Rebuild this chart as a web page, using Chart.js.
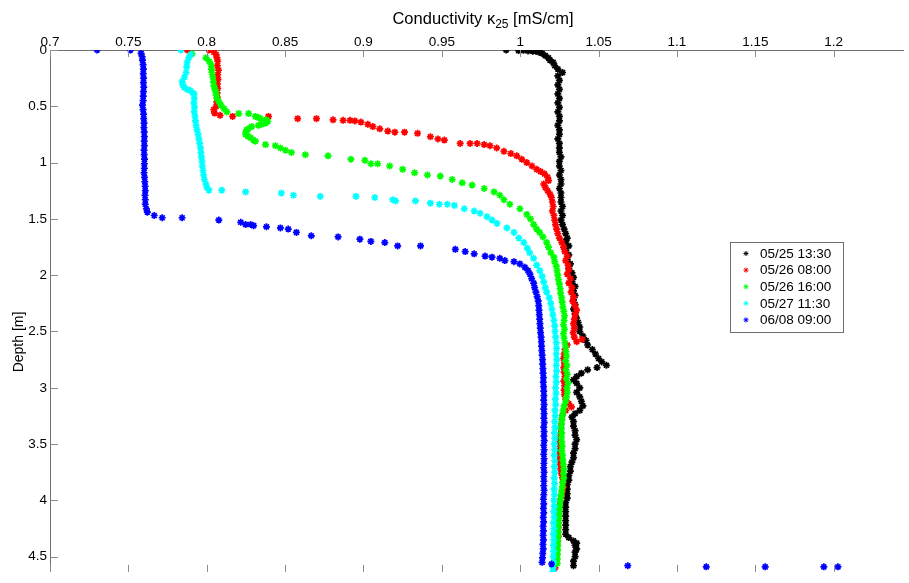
<!DOCTYPE html>
<html>
<head>
<meta charset="utf-8">
<title>Conductivity profiles</title>
<script src="https://cdn.jsdelivr.net/npm/chart.js@4.4.0/dist/chart.umd.min.js"></script>
<style>
  html, body { margin: 0; padding: 0; background: #fff; }
  #wrap { width: 909px; height: 583px; position: relative; }
</style>
</head>
<body>
<div id="wrap"><canvas id="profile-chart" width="909" height="583"></canvas></div>
<script>
// ===== Data =====
const seriesLabels = ['05/25 13:30', '05/26 08:00', '05/26 16:00', '05/27 11:30', '06/08 09:00'];
const seriesColors = ['#000000', '#ff0000', '#00ff00', '#00ffff', '#0000ff'];

const xTicks = [0.7, 0.75, 0.8, 0.85, 0.9, 0.95, 1.0, 1.05, 1.1, 1.15, 1.2];
const xTickLabels = ['0.7', '0.75', '0.8', '0.85', '0.9', '0.95', '1', '1.05', '1.1', '1.15', '1.2'];
const yTicks = [0, 0.5, 1, 1.5, 2, 2.5, 3, 3.5, 4, 4.5];
const yTickLabels = ['0', '0.5', '1', '1.5', '2', '2.5', '3', '3.5', '4', '4.5'];

// each profile: [depth m, conductivity mS/cm]
const profile0525 = [
  [0.00, 0.991], [0.005, 0.999], [0.003, 1.002], [0.008, 1.005], [0.01, 1.008], [0.012, 1.010],
  [0.02, 1.012], [0.03, 1.014], [0.05, 1.016], [0.07, 1.018], [0.09, 1.019], [0.11, 1.021],
  [0.14, 1.022], [0.17, 1.024], [0.20, 1.027], [0.23, 1.024], [0.27, 1.025], [0.31, 1.024],
  [0.35, 1.025], [0.39, 1.024], [0.43, 1.025], [0.47, 1.024], [0.51, 1.025], [0.55, 1.024],
  [0.59, 1.025], [0.63, 1.025], [0.67, 1.024], [0.71, 1.025], [0.75, 1.025], [0.79, 1.024],
  [0.83, 1.025], [0.87, 1.025], [0.91, 1.025], [0.95, 1.026], [0.99, 1.025], [1.03, 1.025],
  [1.07, 1.026], [1.11, 1.025], [1.15, 1.026], [1.19, 1.026], [1.23, 1.025], [1.27, 1.026],
  [1.31, 1.026], [1.35, 1.026], [1.39, 1.027], [1.43, 1.026], [1.47, 1.027], [1.51, 1.026],
  [1.55, 1.027], [1.59, 1.028], [1.63, 1.029], [1.67, 1.030], [1.70, 1.029], [1.74, 1.031],
  [1.78, 1.029], [1.82, 1.031], [1.86, 1.030], [1.90, 1.032], [1.94, 1.031], [1.98, 1.033],
  [2.02, 1.034], [2.06, 1.033], [2.10, 1.035], [2.14, 1.034], [2.18, 1.035], [2.22, 1.034],
  [2.26, 1.035], [2.30, 1.034], [2.34, 1.035], [2.38, 1.036], [2.42, 1.037], [2.46, 1.038],
  [2.50, 1.038], [2.54, 1.040], [2.58, 1.042], [2.62, 1.043], [2.66, 1.046], [2.70, 1.048],
  [2.74, 1.050], [2.77, 1.052], [2.80, 1.055], [2.82, 1.049], [2.84, 1.043], [2.87, 1.039],
  [2.90, 1.036], [2.93, 1.034], [2.96, 1.036], [3.00, 1.038], [3.04, 1.036], [3.08, 1.038],
  [3.12, 1.039], [3.16, 1.040], [3.20, 1.038], [3.23, 1.035], [3.26, 1.033], [3.30, 1.034],
  [3.34, 1.034], [3.38, 1.035], [3.42, 1.035], [3.46, 1.036], [3.50, 1.035], [3.54, 1.035],
  [3.58, 1.034], [3.62, 1.034], [3.66, 1.033], [3.70, 1.032], [3.74, 1.032], [3.78, 1.031],
  [3.82, 1.031], [3.86, 1.030], [3.90, 1.030], [3.94, 1.030], [3.98, 1.030], [4.02, 1.029],
  [4.06, 1.029], [4.10, 1.029], [4.14, 1.029], [4.18, 1.029], [4.22, 1.029], [4.26, 1.029],
  [4.30, 1.029], [4.33, 1.031], [4.36, 1.034], [4.38, 1.036], [4.40, 1.035], [4.43, 1.036],
  [4.46, 1.035], [4.50, 1.035], [4.54, 1.034], [4.58, 1.034]
];

const profile0526a = [
  [0.00, 0.7875], [0.00, 0.8014], [0.02, 0.8045], [0.04, 0.8060], [0.07, 0.8065], [0.10, 0.8070],
  [0.14, 0.8068], [0.18, 0.8075], [0.22, 0.8070], [0.26, 0.8072], [0.30, 0.8068], [0.34, 0.8070],
  [0.38, 0.8066], [0.42, 0.8068], [0.46, 0.8064], [0.50, 0.8060], [0.53, 0.8045], [0.56, 0.8050],
  [0.58, 0.8085], [0.59, 0.8165], [0.59, 0.8394], [0.61, 0.8580], [0.61, 0.8700], [0.62, 0.8806],
  [0.625, 0.8870], [0.625, 0.8914], [0.63, 0.8945], [0.64, 0.8984], [0.66, 0.9028], [0.68, 0.9060],
  [0.70, 0.9104], [0.72, 0.9155], [0.73, 0.9200], [0.73, 0.9262], [0.74, 0.9345], [0.77, 0.9427],
  [0.79, 0.9475], [0.80, 0.9516], [0.83, 0.9617], [0.83, 0.9680], [0.83, 0.9725], [0.84, 0.9770],
  [0.85, 0.9807], [0.87, 0.9850], [0.90, 0.9896], [0.92, 0.9940], [0.94, 0.9978], [0.97, 1.0010],
  [1.00, 1.0042], [1.03, 1.0075], [1.06, 1.0105], [1.08, 1.0130], [1.10, 1.0155], [1.13, 1.0175],
  [1.16, 1.0181], [1.19, 1.0150], [1.22, 1.0160], [1.25, 1.0175], [1.28, 1.0190], [1.31, 1.0200],
  [1.35, 1.0205], [1.39, 1.0210], [1.43, 1.0205], [1.47, 1.0215], [1.51, 1.0220], [1.55, 1.0225],
  [1.59, 1.0232], [1.63, 1.0240], [1.67, 1.0250], [1.71, 1.0265], [1.75, 1.0276], [1.79, 1.0285],
  [1.83, 1.0300], [1.87, 1.0290], [1.91, 1.0305], [1.95, 1.0310], [1.99, 1.0300], [2.03, 1.0320],
  [2.07, 1.0310], [2.11, 1.0330], [2.15, 1.0325], [2.19, 1.0340], [2.23, 1.0335], [2.27, 1.0350],
  [2.31, 1.0360], [2.35, 1.0350], [2.39, 1.0345], [2.43, 1.0340], [2.47, 1.0345], [2.51, 1.0338],
  [2.55, 1.0345], [2.57, 1.0395], [2.59, 1.0360], [2.62, 1.0300], [2.66, 1.0285], [2.70, 1.0280],
  [2.74, 1.0276], [2.78, 1.0282], [2.82, 1.0278], [2.86, 1.0280], [2.90, 1.0285], [2.94, 1.0278],
  [2.98, 1.0283], [3.02, 1.0280], [3.06, 1.0282], [3.10, 1.0290], [3.14, 1.0310], [3.17, 1.0327],
  [3.20, 1.0290], [3.24, 1.0270], [3.28, 1.0265], [3.32, 1.0262], [3.36, 1.0260], [3.40, 1.0258],
  [3.44, 1.0255], [3.48, 1.0252], [3.52, 1.0255], [3.56, 1.0250], [3.60, 1.0252], [3.64, 1.0250],
  [3.68, 1.0255], [3.72, 1.0258], [3.76, 1.0262], [3.80, 1.0270], [3.84, 1.0272], [3.88, 1.0276],
  [3.92, 1.0270], [3.96, 1.0262], [4.00, 1.0255], [4.04, 1.0250], [4.08, 1.0248], [4.12, 1.0245],
  [4.16, 1.0245], [4.20, 1.0243], [4.24, 1.0244], [4.28, 1.0240], [4.32, 1.0243], [4.36, 1.0238],
  [4.40, 1.0235], [4.44, 1.0234], [4.48, 1.0230], [4.52, 1.0228], [4.56, 1.0226], [4.60, 1.0222]
];

const profile0526b = [
  [0.035, 0.7906], [0.07, 0.7995], [0.10, 0.8015], [0.13, 0.8027], [0.17, 0.8030], [0.20, 0.8033],
  [0.24, 0.8038], [0.28, 0.8042], [0.32, 0.8046], [0.35, 0.8052], [0.37, 0.8058], [0.40, 0.8060],
  [0.43, 0.8065], [0.46, 0.8078], [0.49, 0.8090], [0.52, 0.8110], [0.55, 0.8128], [0.565, 0.8204],
  [0.565, 0.8267], [0.59, 0.8310], [0.60, 0.8330], [0.61, 0.8343], [0.62, 0.8380], [0.635, 0.8390],
  [0.65, 0.8375], [0.66, 0.8350], [0.67, 0.8330], [0.68, 0.8287], [0.70, 0.8265], [0.71, 0.8255],
  [0.73, 0.8250], [0.75, 0.8248], [0.765, 0.8262], [0.78, 0.8280], [0.80, 0.8298], [0.81, 0.8310],
  [0.84, 0.8375], [0.85, 0.8438], [0.87, 0.8470], [0.89, 0.8502], [0.91, 0.8540], [0.93, 0.8629],
  [0.94, 0.8774], [0.97, 0.8920], [0.98, 0.9009], [1.01, 0.9047], [1.01, 0.9090], [1.03, 0.9167],
  [1.06, 0.9250], [1.09, 0.9326], [1.11, 0.9408], [1.12, 0.9490], [1.15, 0.9566], [1.18, 0.9630],
  [1.20, 0.9693], [1.23, 0.9770], [1.26, 0.9833], [1.29, 0.9870], [1.33, 0.9896], [1.37, 0.9934],
  [1.41, 0.9998], [1.46, 1.0042], [1.50, 1.0065], [1.55, 1.0086], [1.59, 1.0105], [1.62, 1.0124],
  [1.66, 1.0145], [1.71, 1.0169], [1.75, 1.0180], [1.80, 1.0195], [1.84, 1.0215], [1.88, 1.0220],
  [1.92, 1.0230], [1.96, 1.0235], [2.00, 1.0240], [2.04, 1.0244], [2.08, 1.0250], [2.12, 1.0255],
  [2.16, 1.0258], [2.20, 1.0264], [2.24, 1.0268], [2.28, 1.0272], [2.32, 1.0278], [2.36, 1.0283],
  [2.40, 1.0280], [2.44, 1.0276], [2.48, 1.0282], [2.52, 1.0276], [2.56, 1.0280], [2.60, 1.0285],
  [2.64, 1.0290], [2.68, 1.0292], [2.72, 1.0295], [2.76, 1.0290], [2.80, 1.0298], [2.84, 1.0292],
  [2.88, 1.0300], [2.92, 1.0295], [2.96, 1.0305], [3.00, 1.0298], [3.04, 1.0300], [3.08, 1.0295],
  [3.12, 1.0290], [3.16, 1.0280], [3.20, 1.0275], [3.24, 1.0270], [3.28, 1.0266], [3.32, 1.0264],
  [3.36, 1.0262], [3.40, 1.0265], [3.44, 1.0263], [3.48, 1.0265], [3.52, 1.0268], [3.56, 1.0265],
  [3.60, 1.0270], [3.64, 1.0272], [3.68, 1.0275], [3.72, 1.0278], [3.76, 1.0276], [3.80, 1.0278],
  [3.84, 1.0272], [3.88, 1.0268], [3.92, 1.0264], [3.96, 1.0260], [4.00, 1.0256], [4.04, 1.0252],
  [4.08, 1.0250], [4.12, 1.0248], [4.16, 1.0246], [4.20, 1.0244], [4.24, 1.0243], [4.28, 1.0242],
  [4.32, 1.0241], [4.36, 1.0240], [4.40, 1.0240], [4.44, 1.0239], [4.48, 1.0238], [4.52, 1.0237],
  [4.56, 1.0236]
];

const profile0527 = [
  [0.00, 0.7834], [0.04, 0.7898], [0.07, 0.7885], [0.11, 0.7875], [0.15, 0.7872], [0.20, 0.7868],
  [0.24, 0.7858], [0.28, 0.7843], [0.31, 0.7848], [0.33, 0.7855], [0.35, 0.7875], [0.36, 0.7895],
  [0.38, 0.7910], [0.39, 0.7919], [0.43, 0.7920], [0.47, 0.7918], [0.51, 0.7922], [0.55, 0.7920],
  [0.59, 0.7925], [0.63, 0.7928], [0.67, 0.7932], [0.71, 0.7938], [0.75, 0.7945], [0.79, 0.7950],
  [0.83, 0.7955], [0.87, 0.7960], [0.91, 0.7963], [0.95, 0.7966], [0.99, 0.7970], [1.03, 0.7972],
  [1.07, 0.7976], [1.11, 0.7980], [1.15, 0.7985], [1.19, 0.7995], [1.22, 0.8001], [1.245, 0.8014],
  [1.245, 0.8096], [1.26, 0.8248], [1.27, 0.8476], [1.29, 0.8553], [1.30, 0.8724], [1.30, 0.8952],
  [1.31, 0.9072], [1.33, 0.9186], [1.34, 0.9205], [1.34, 0.9332], [1.36, 0.9427], [1.37, 0.9484],
  [1.37, 0.9535], [1.38, 0.9580], [1.41, 0.9643], [1.43, 0.9706], [1.45, 0.9744], [1.48, 0.9788],
  [1.51, 0.9820], [1.54, 0.9852], [1.58, 0.9915], [1.62, 0.9960], [1.67, 0.9991], [1.71, 1.0023],
  [1.76, 1.0045], [1.80, 1.0060], [1.85, 1.0085], [1.91, 1.0105], [1.96, 1.0125], [2.01, 1.0140],
  [2.06, 1.0150], [2.11, 1.0160], [2.15, 1.0169], [2.20, 1.0185], [2.25, 1.0195], [2.30, 1.0202],
  [2.35, 1.0208], [2.40, 1.0215], [2.45, 1.0220], [2.50, 1.0222], [2.55, 1.0226], [2.60, 1.0230],
  [2.65, 1.0232], [2.70, 1.0230], [2.75, 1.0233], [2.80, 1.0230], [2.85, 1.0232], [2.90, 1.0228],
  [2.95, 1.0230], [3.00, 1.0226], [3.05, 1.0228], [3.10, 1.0224], [3.15, 1.0226], [3.20, 1.0222],
  [3.25, 1.0224], [3.30, 1.0220], [3.35, 1.0222], [3.40, 1.0219], [3.45, 1.0221], [3.50, 1.0218],
  [3.55, 1.0220], [3.60, 1.0217], [3.65, 1.0220], [3.70, 1.0218], [3.75, 1.0220], [3.80, 1.0217],
  [3.85, 1.0219], [3.90, 1.0216], [3.95, 1.0218], [4.00, 1.0215], [4.05, 1.0217], [4.10, 1.0214],
  [4.15, 1.0216], [4.20, 1.0213], [4.25, 1.0215], [4.30, 1.0212], [4.35, 1.0214], [4.40, 1.0212],
  [4.45, 1.0213], [4.50, 1.0211], [4.55, 1.0212], [4.60, 1.0210], [4.63, 1.0210]
];

const profile0608 = [
  [0.00, 0.7300], [0.00, 0.7513], [0.03, 0.7581], [0.06, 0.7588], [0.09, 0.7590], [0.13, 0.7594],
  [0.17, 0.7596], [0.21, 0.7595], [0.25, 0.7597], [0.29, 0.7596], [0.33, 0.7598], [0.37, 0.7596],
  [0.41, 0.7595], [0.45, 0.7594], [0.49, 0.7590], [0.53, 0.7594], [0.57, 0.7597], [0.61, 0.7598],
  [0.65, 0.7600], [0.69, 0.7599], [0.73, 0.7601], [0.77, 0.7602], [0.81, 0.7601], [0.85, 0.7602],
  [0.89, 0.7600], [0.93, 0.7601], [0.97, 0.7603], [1.01, 0.7602], [1.05, 0.7602], [1.09, 0.7600],
  [1.13, 0.7603], [1.17, 0.7605], [1.21, 0.7607], [1.25, 0.7608], [1.29, 0.7606], [1.33, 0.7608],
  [1.37, 0.7608], [1.41, 0.7615], [1.44, 0.7621], [1.47, 0.7665], [1.49, 0.7716], [1.49, 0.7843],
  [1.51, 0.8077], [1.53, 0.8217], [1.55, 0.8248], [1.55, 0.8280], [1.56, 0.8299], [1.57, 0.8381],
  [1.58, 0.8470], [1.59, 0.8520], [1.62, 0.8572], [1.65, 0.8667], [1.66, 0.8838], [1.68, 0.8977],
  [1.70, 0.9047], [1.71, 0.9136], [1.74, 0.9218], [1.74, 0.9364], [1.77, 0.9586], [1.79, 0.9649],
  [1.81, 0.9706], [1.83, 0.9776], [1.84, 0.9820], [1.85, 0.9870], [1.87, 0.9902], [1.88, 0.9960],
  [1.90, 0.9998], [1.93, 1.0030], [1.96, 1.0050], [1.99, 1.0062], [2.03, 1.0073], [2.07, 1.0086],
  [2.11, 1.0092], [2.15, 1.0100], [2.19, 1.0108], [2.23, 1.0115], [2.27, 1.0118], [2.31, 1.0120],
  [2.35, 1.0122], [2.39, 1.0124], [2.43, 1.0126], [2.47, 1.0128], [2.51, 1.0130], [2.55, 1.0133],
  [2.59, 1.0135], [2.63, 1.0136], [2.67, 1.0138], [2.71, 1.0140], [2.75, 1.0142], [2.79, 1.0143],
  [2.83, 1.0145], [2.87, 1.0146], [2.91, 1.0148], [2.95, 1.0147], [2.99, 1.0149], [3.03, 1.0150],
  [3.07, 1.0151], [3.11, 1.0150], [3.15, 1.0152], [3.19, 1.0150], [3.23, 1.0152], [3.27, 1.0151],
  [3.31, 1.0153], [3.35, 1.0150], [3.39, 1.0152], [3.43, 1.0151], [3.47, 1.0153], [3.51, 1.0150],
  [3.55, 1.0152], [3.59, 1.0150], [3.63, 1.0152], [3.67, 1.0151], [3.71, 1.0150], [3.75, 1.0152],
  [3.79, 1.0150], [3.83, 1.0151], [3.87, 1.0150], [3.91, 1.0152], [3.95, 1.0150], [3.99, 1.0148],
  [4.03, 1.0150], [4.07, 1.0148], [4.11, 1.0150], [4.15, 1.0147], [4.19, 1.0149], [4.23, 1.0146],
  [4.27, 1.0148], [4.31, 1.0146], [4.35, 1.0148], [4.39, 1.0145], [4.43, 1.0147], [4.47, 1.0144],
  [4.51, 1.0142], [4.55, 1.0140], [4.565, 1.0200], [4.58, 1.0686], [4.59, 1.1187], [4.59, 1.1563],
  [4.59, 1.1937], [4.59, 1.2027]
];

const profiles = [profile0525, profile0526a, profile0526b, profile0527, profile0608];

const FONT = "'Liberation Sans', Arial, Helvetica, sans-serif";
const AXIS_GREY = '#6f6f6f';

// ===== Plugins =====

// MATLAB style inward tick marks
const innerTicksPlugin = {
    id: 'innerTicks',
    afterDatasetsDraw(chart) {
        const { ctx, chartArea, scales } = chart;
        ctx.save();
        ctx.strokeStyle = '#8c8c8c';
        ctx.lineWidth = 1;
        ctx.beginPath();
        xTicks.forEach(v => {
            const px = Math.round(scales.x.getPixelForValue(v)) + 0.5;
            ctx.moveTo(px, chartArea.top);
            ctx.lineTo(px, chartArea.top + 7);
            ctx.moveTo(px, chartArea.bottom);
            ctx.lineTo(px, chartArea.bottom - 7);
        });
        yTicks.forEach(v => {
            const py = Math.round(scales.y.getPixelForValue(v)) + 0.5;
            ctx.moveTo(chartArea.left, py);
            ctx.lineTo(chartArea.left + 8, py);
        });
        ctx.stroke();
        ctx.restore();
    }
};

// axis titles (top title has the kappa subscript)
const axisTitlesPlugin = {
    id: 'axisTitles',
    afterDraw(chart) {
        const { ctx } = chart;
        ctx.save();
        ctx.fillStyle = '#000';
        ctx.textBaseline = 'alphabetic';

        const mainFont = '16.5px ' + FONT;
        const subFont = '12px ' + FONT;
        const partA = 'Conductivity \u03BA';
        const partSub = '25';
        const partB = ' [mS/cm]';
        ctx.font = mainFont;
        const wA = ctx.measureText(partA).width;
        const wB = ctx.measureText(partB).width;
        ctx.font = subFont;
        const wSub = ctx.measureText(partSub).width;
        const total = wA + wSub + wB;
        let x = 483 - total / 2;
        const base = 24;
        ctx.textAlign = 'left';
        ctx.font = mainFont;
        ctx.fillText(partA, x, base);
        x += wA;
        ctx.font = subFont;
        ctx.fillText(partSub, x, base + 4);
        x += wSub;
        ctx.font = mainFont;
        ctx.fillText(partB, x, base);

        // y title
        ctx.translate(23, 342);
        ctx.rotate(-Math.PI / 2);
        ctx.textAlign = 'center';
        ctx.font = '14px ' + FONT;
        ctx.fillText('Depth [m]', 0, 0);
        ctx.restore();
    }
};

// boxed legend inside the plot area
const boxLegendPlugin = {
    id: 'boxLegend',
    afterDraw(chart) {
        const { ctx } = chart;
        const box = { x: 730.5, y: 242.5, w: 113, h: 90 };
        ctx.save();
        ctx.fillStyle = '#fff';
        ctx.strokeStyle = AXIS_GREY;
        ctx.lineWidth = 1;
        ctx.fillRect(box.x, box.y, box.w, box.h);
        ctx.strokeRect(box.x, box.y, box.w, box.h);

        ctx.font = '13.5px ' + FONT;
        ctx.textAlign = 'left';
        ctx.textBaseline = 'middle';
        seriesLabels.forEach((label, i) => {
            const rowY = box.y + 11 + i * 16.6;
            ctx.strokeStyle = seriesColors[i];
            ctx.fillStyle = seriesColors[i];
            Chart.helpers.drawPoint(ctx, { pointStyle: 'star', radius: 2.5, rotation: 0, borderWidth: 1.5 }, 746, rowY);
            ctx.fillStyle = '#000';
            ctx.fillText(label, 760, rowY + 0.5);
        });
        ctx.restore();
    }
};

// ===== Chart =====

function buildDatasets() {
    return profiles.map((profile, i) => ({
        label: seriesLabels[i],
        data: profile.map(p => ({ x: p[1], y: p[0] })),
        borderColor: seriesColors[i],
        backgroundColor: seriesColors[i],
        pointStyle: 'star',
        pointRadius: 3.5,
        pointBorderWidth: 1.7,
        showLine: false,
        // later series drawn on top, like the original plot
        order: profiles.length - i
    }));
}

function initProfileChart() {
    const ctx = document.getElementById('profile-chart').getContext('2d');

    new Chart(ctx, {
        type: 'scatter',
        data: { datasets: buildDatasets() },
        options: {
            responsive: false,
            animation: false,
            layout: { padding: 0 },
            plugins: {
                legend: { display: false },
                tooltip: { enabled: false },
                title: { display: false }
            },
            scales: {
                x: {
                    type: 'linear',
                    position: 'top',
                    min: 0.7,
                    max: 1.2444,
                    afterBuildTicks: scale => { scale.ticks = xTicks.map(v => ({ value: v })); },
                    afterFit: scale => { scale.height = 50; },
                    ticks: {
                        padding: 0,
                        maxRotation: 0,
                        autoSkip: false,
                        color: '#000',
                        font: { family: FONT, size: 13.5 },
                        callback: (value, index) => xTickLabels[index]
                    },
                    grid: { display: false, drawTicks: false },
                    border: { display: true, color: AXIS_GREY, width: 1 }
                },
                y: {
                    type: 'linear',
                    position: 'left',
                    reverse: true,
                    min: 0,
                    max: 4.635,
                    afterBuildTicks: scale => { scale.ticks = yTicks.map(v => ({ value: v })); },
                    afterFit: scale => { scale.width = 50; },
                    ticks: {
                        padding: 3,
                        autoSkip: false,
                        color: '#000',
                        font: { family: FONT, size: 13.5 },
                        callback: (value, index) => yTickLabels[index]
                    },
                    grid: { display: false, drawTicks: false },
                    border: { display: true, color: AXIS_GREY, width: 1 }
                }
            }
        },
        plugins: [innerTicksPlugin, axisTitlesPlugin, boxLegendPlugin]
    });
}

initProfileChart();
</script>
</body>
</html>
